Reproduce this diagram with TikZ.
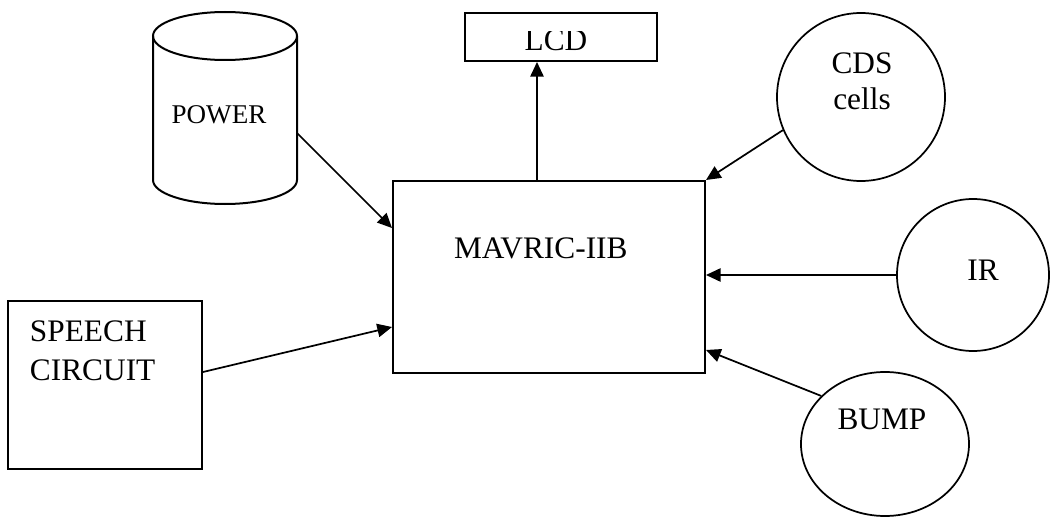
\documentclass[tikz,border=0pt]{standalone}
\usepackage{fontspec}
\setmainfont{Liberation Serif}
\usetikzlibrary{positioning, calc, arrows.meta, shapes.geometric}

\begin{document}
\begin{tikzpicture}[x=0.75pt, y=-0.75pt, line width=1.5pt,
    every node/.style={font=\fontsize{23.5}{29}\selectfont, inner sep=0pt},
    box/.style={draw, rectangle},
    ring/.style={draw, ellipse, line width=1.3pt},
    arr/.style={-{Triangle[length=11pt, width=10pt]}, line width=1.3pt}]
  \useasboundingbox (0,0) rectangle (1058,517);
  % power drum
  \draw (153,36) -- (153,180) arc[start angle=180, end angle=0, x radius=72, y radius=24] -- (297,36);
  \draw (225,36) ellipse [x radius=72, y radius=24];
  \node[anchor=base, font=\fontsize{20.3}{24}\selectfont] (power) at (219,123) {POWER};
  \coordinate (powerrim) at (297,133);
  % controller
  \node[box, minimum width=234pt, minimum height=144pt] (mavric) at (549,277) {};
  \node[anchor=base west] (mavtext) at (453,258) {MAVRIC-IIB};
  % display
  \node[box, minimum width=144pt, minimum height=36pt] (lcd) at (561,37) {};
  \begin{scope}
    \clip (465,32) rectangle (657,61);
    \node[anchor=base] (lcdtext) at (556,51) {LCD};
  \end{scope}
  % sensors
  \node[ring, minimum width=126pt, minimum height=126pt] (cds) at (861,97) {};
  \node[align=center, font=\fontsize{23.5}{27}\selectfont] (cdstext) at (862,81) {CDS\\cells};
  \node[ring, minimum width=114pt, minimum height=114pt] (ir) at (973,275) {};
  \node[anchor=base] (irtext) at (983,280) {IR};
  \node[ring, minimum width=126pt, minimum height=108pt] (bump) at (885,444) {};
  \node[anchor=base] (bumptext) at (882,429) {BUMP};
  \node[box, minimum width=145.5pt, minimum height=126pt] (speech) at (105,385) {};
  \node[align=left, anchor=north west] (speechtext) at (29,320) {SPEECH\\CIRCUIT};
  % links
  \draw[arr] (powerrim) -- ([yshift=36.75pt]mavric.west);
  \draw[arr] ([xshift=-9pt]mavric.north) -- ([xshift=-9pt]mavric.north |- lcd.south);
  \draw[arr] (cds.203) -- (mavric.north east);
  \draw[arr] (ir.west) -- (ir.west -| mavric.east);
  \draw[arr] (bump.143) -- ([yshift=18pt]mavric.south east);
  \draw[arr] ([yshift=9.75pt]speech.east) -- ([yshift=-37.5pt]mavric.west);
\end{tikzpicture}
\end{document}
